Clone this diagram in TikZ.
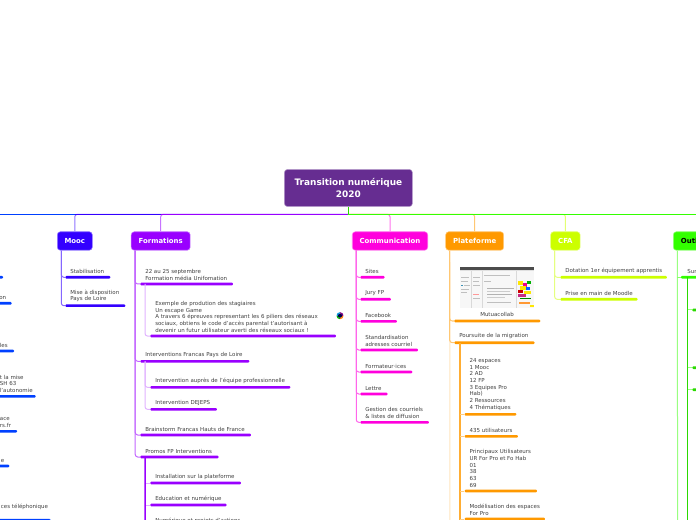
\documentclass[tikz,border=0pt]{standalone}
\usepackage{fontspec}
\setmainfont{DejaVu Sans}
\definecolor{rootc}{HTML}{662D91}
\definecolor{farc}{HTML}{0040FF}
\definecolor{moocc}{HTML}{3300FF}
\definecolor{formc}{HTML}{9900FF}
\definecolor{commc}{HTML}{FF00DD}
\definecolor{platc}{HTML}{FF9900}
\definecolor{cfac}{HTML}{CCFF00}
\definecolor{outc}{HTML}{33FF00}
\def\px{0.75pt}
\tikzset{
  box/.style={rectangle, rounded corners=3*\px, minimum height=18.5*\px, inner sep=0pt, text=white, font=\fontsize{5.2}{7}\bfseries},
  bar/.style={rectangle, rounded corners=1*\px, minimum height=2.6*\px, inner sep=0pt, anchor=west},
  txt/.style={anchor=south west, inner sep=0pt, align=left, xshift=5*\px, yshift=2*\px, text=black!75, font=\fontsize{4.12}{5}\selectfont},
  trunk/.style={line width=1*\px},
  twig/.style={line width=1*\px, rounded corners=2.5*\px},
  stem/.style={line width=1.5*\px}
}
\begin{document}
\begin{tikzpicture}[x=\px,y=-\px]
\useasboundingbox (0,0) rectangle (696,520);
\clip (0,0) rectangle (696,520);

\node [box, fill=rootc, draw=rootc!50, minimum width=128*\px, minimum height=37*\px, align=center, font=\fontsize{6.7}{8.8}\bfseries] (root) at (348.4,188) {Transition numérique\\2020};
\coordinate (hub) at (348.4,214.3);
\coordinate (farl) at (-10,214.3);

\node [box, fill=moocc, draw=moocc!50, minimum width=35*\px] (mooc) at (74.8,241) {Mooc};
\node [box, fill=formc, draw=formc!50, minimum width=59*\px] (form) at (160.7,241) {Formations};
\node [box, fill=commc, draw=commc!50, minimum width=75.5*\px] (comm) at (390,241) {Communication};
\node [box, fill=platc, draw=platc!50, minimum width=58*\px] (plat) at (474.7,241) {Plateforme};
\node [box, fill=cfac, draw=cfac!50, minimum width=29.5*\px] (cfa) at (565.4,241) {CFA};
\node [box, fill=outc, draw=outc!50, minimum width=86*\px, text=black] (outi) at (716.3,241) {\hspace*{-35.7pt}Outils};

\draw [twig, moocc!55] (hub) -| (mooc.north);
\draw [twig, formc!55] (hub) -| (form.north);
\draw [twig, commc!55] (hub) -| (comm.north);
\draw [twig, platc!55] (hub) -| (plat.north);
\draw [twig, cfac!55] (hub) -| (cfa.north);
\draw [trunk, farc] (hub) -- (farl);
\draw [trunk, moocc] (hub) -- (mooc.north |- hub);
\draw [trunk, formc] (hub) -- (form.north |- hub);
\draw [trunk, outc] (hub) -- (outi.north |- hub);
\draw [trunk, outc!85!black] (root.south) -- (hub);

% left, cut by the page
\node [bar, fill=farc, minimum width=40*\px, anchor=east] (l1) at (3.3,277.3) {};
\node [bar, fill=farc, minimum width=40*\px, anchor=east] (l2) at (12,303.3) {};
\node [txt] at (-6,302) {on};
\node [bar, fill=farc, minimum width=40*\px, anchor=east] (l3) at (14.3,351) {};
\node [txt] at (-5.3,349.7) {les};
\node [bar, fill=farc, minimum width=60*\px, anchor=east] (l4) at (36,396.3) {};
\node [txt] at (-5.3,395) {t la mise\\SH 63\\l'autonomie};
\node [bar, fill=farc, minimum width=40*\px, anchor=east] (l5) at (17.3,431.3) {};
\node [txt] at (-5.3,430) {ace\\rs.fr};
\node [bar, fill=farc, minimum width=40*\px, anchor=east] (l6) at (9.7,466) {};
\node [txt] at (-4.5,464.7) {e};
\node [bar, fill=farc, minimum width=80*\px, minimum height=1.2*\px, anchor=east] (l7) at (50.7,519.4) {};
\node [txt] at (-4.3,512) {ces téléphonique};

% Mooc
\node [bar, fill=moocc, minimum width=45*\px] (m1) at (65,277.3) {};
\node [txt] at (m1.north west) {Stabilisation};
\node [bar, fill=moocc, minimum width=60*\px] (m2) at (65,305.7) {};
\node [txt] at (m2.north west) {Mise à disposition\\Pays de Loire};
\draw [twig, moocc!60] ([xshift=4.3*\px]mooc.south west) |- (m1.west);
\draw [twig, moocc!60] ([xshift=4.3*\px]mooc.south west) |- (m2.west);

% Formations
\node [bar, fill=formc, minimum width=92.7*\px] (f1) at (140,284) {};
\node [txt] at (f1.north west) {22 au 25 septembre\\Formation média Unifomation};
\node [bar, fill=formc, minimum width=185.7*\px] (f11) at (150,336) {};
\node [txt] at (f11.north west) {Exemple de prodution des stagiaires\\Un escape Game\\A travers 6 épreuves representant les 6 piliers des réseaux\\sociaux, obtiens le code d'accès parental  t'autorisant à\\devenir un futur utilisateur averti des réseaux sociaux !};
\node [bar, fill=formc, minimum width=109*\px] (f2) at (140,361.3) {};
\node [txt] at (f2.north west) {Interventions Francas Pays de Loire};
\node [bar, fill=formc, minimum width=140*\px] (f21) at (150,387.3) {};
\node [txt] at (f21.north west) {Intervention auprès de l'équipe professionnelle};
\node [bar, fill=formc, minimum width=66.7*\px] (f22) at (150,409.3) {};
\node [txt] at (f22.north west) {Intervention DEJEPS};
\node [bar, fill=formc, minimum width=110.7*\px] (f3) at (140,435) {};
\node [txt] at (f3.north west) {Brainstorm Francas Hauts de France};
\node [bar, fill=formc, minimum width=78.3*\px] (f4) at (140,457) {};
\node [txt] at (f4.north west) {Promos FP Interventions};
\node [bar, fill=formc, minimum width=90.7*\px] (f41) at (150,483) {};
\node [txt] at (f41.north west) {Installation sur la plateforme};
\node [bar, fill=formc, minimum width=76.3*\px] (f42) at (150,505) {};
\node [txt] at (f42.north west) {Education et numérique};
\node [bar, fill=formc, minimum width=92*\px] (f43) at (150,527) {};
\node [txt] at (f43.north west) {Numérique et projets d'actions};
\coordinate (fend) at (145.2,530);
\draw [twig, formc!60] ([xshift=4.3*\px]form.south west) |- (f1.west);
\draw [twig, formc!60] ([xshift=4.3*\px]form.south west) |- (f2.west);
\draw [twig, formc!60] ([xshift=4.3*\px]form.south west) |- (f3.west);
\draw [twig, formc!60] ([xshift=4.3*\px]form.south west) |- (f4.west);
\draw [twig, formc!30] ([xshift=5*\px]f1.west) |- (f11.west);
\draw [twig, formc!30] ([xshift=5*\px]f2.west) |- (f21.west);
\draw [twig, formc!30] ([xshift=5*\px]f2.west) |- (f22.west);
\draw [twig, formc!30] ([xshift=-5*\px]f41.west) -- (f41.west);
\draw [twig, formc!30] ([xshift=-5*\px]f42.west) -- (f42.west);
\draw [stem, formc] ([xshift=5*\px]f4.west) -- (fend);

% small round picture beside the long text
\node [circle, fill=black!70!blue, minimum size=4.5*\px, inner sep=0pt] (icon) at (340,315.7) {};
\draw [line width=1.2*\px, green!70!black] (icon) ++(180:2.9*\px) arc (180:270:2.9*\px);
\draw [line width=1.2*\px, orange] (icon) ++(270:2.9*\px) arc (270:360:2.9*\px);
\draw [line width=1.2*\px, violet] (icon) ++(0:2.9*\px) arc (0:90:2.9*\px);
\draw [line width=1.2*\px, cyan!80!blue] (icon) ++(90:2.9*\px) arc (90:180:2.9*\px);

% Communication
\node [bar, fill=commc, minimum width=24.3*\px] (c1) at (360,277.3) {};
\node [txt] at (c1.north west) {Sites};
\node [bar, fill=commc, minimum width=30.7*\px] (c2) at (360,299.3) {};
\node [txt] at (c2.north west) {Jury FP};
\node [bar, fill=commc, minimum width=36.7*\px] (c3) at (360,321.3) {};
\node [txt] at (c3.north west) {Facebook};
\node [bar, fill=commc, minimum width=57.7*\px] (c4) at (360,350) {};
\node [txt] at (c4.north west) {Standardisation\\adresses courriel};
\node [bar, fill=commc, minimum width=52*\px] (c5) at (360,372) {};
\node [txt] at (c5.north west) {Formateur·ices};
\node [bar, fill=commc, minimum width=27.3*\px] (c6) at (360,394) {};
\node [txt] at (c6.north west) {Lettre};
\node [bar, fill=commc, minimum width=68.7*\px] (c7) at (360,422.3) {};
\node [txt] at (c7.north west) {Gestion des courriels\\\& listes de diffusion};
\draw [twig, commc!60] ([xshift=4.3*\px]comm.south west) |- (c1.west);
\draw [twig, commc!60] ([xshift=4.3*\px]comm.south west) |- (c2.west);
\draw [twig, commc!60] ([xshift=4.3*\px]comm.south west) |- (c3.west);
\draw [twig, commc!60] ([xshift=4.3*\px]comm.south west) |- (c4.west);
\draw [twig, commc!60] ([xshift=4.3*\px]comm.south west) |- (c5.west);
\draw [twig, commc!60] ([xshift=4.3*\px]comm.south west) |- (c6.west);
\draw [twig, commc!60] ([xshift=4.3*\px]comm.south west) |- (c7.west);

% Plateforme
\coordinate (pend) at (450,530);
\draw [twig, platc!25] ([xshift=4.3*\px]plat.south west) -- (pend);
\node [bar, fill=platc, minimum width=86*\px] (p1) at (454,321) {};
\node [txt, xshift=21*\px, yshift=1*\px] at (p1.north west) {Mutuacollab};
\node [bar, fill=platc, minimum width=80.3*\px] (p2) at (454,342.7) {};
\node [txt] at (p2.north west) {Poursuite de la migration};
\draw [twig, platc!55] ([xshift=4.3*\px]plat.south west) |- (p1.west);
\draw [twig, platc!55] ([xshift=4.3*\px]plat.south west) |- (p2.west);
\node [bar, fill=platc, minimum width=51.7*\px] (p21) at (464.3,414.3) {};
\node [txt] at (p21.north west) {24 espaces\\1 Mooc\\2 AD\\12 FP\\3 Equipes Pro\\Hab)\\2 Ressources\\4 Thématiques};
\node [bar, fill=platc, minimum width=53.4*\px] (p22) at (464.3,436.3) {};
\node [txt] at (p22.north west) {435 utilisateurs};
\node [bar, fill=platc, minimum width=72.4*\px] (p23) at (464.3,491) {};
\node [txt] at (p23.north west) {Principaux Utilisateurs\\UR For Pro et Fo Hab\\01\\38\\63\\69};
\node [bar, fill=platc, minimum width=80.4*\px] (p24) at (464.3,519) {};
\node [txt] at (p24.north west) {Modélisation des espaces\\For Pro};
\coordinate (pend2) at (460,530);
\draw [stem, platc!80] ([xshift=6*\px]p2.west) -- (pend2);
\draw [twig, platc!50] (p21.west) -- ([xshift=-4.3*\px]p21.west);
\draw [twig, platc!50] (p22.west) -- ([xshift=-4.3*\px]p22.west);
\draw [twig, platc!50] (p23.west) -- ([xshift=-4.3*\px]p23.west);
\draw [twig, platc!50] (p24.west) -- ([xshift=-4.3*\px]p24.west);

% the screenshot above Mutuacollab
\fill [black!3] (459.7,267) rectangle (534.3,308.3);
\fill [black!70] (459.7,267) rectangle (534.3,270);
\fill [black!12] (459.7,270) rectangle (534.3,271.5);
\draw [black!15, line width=0.4*\px] (471,271.5) -- (471,308);
\draw [black!15, line width=0.4*\px] (482,271.5) -- (482,308);
\draw [black!15, line width=0.4*\px] (516,271.5) -- (516,308);
\fill [black!25] (461,277) rectangle (469,278);
\fill [black!25] (461,281) rectangle (468,282);
\fill [cyan!70!black] (461,285) rectangle (463,286);
\fill [black!25] (464,285) rectangle (470,286);
\fill [black!25] (461,289) rectangle (469,290);
\fill [black!25] (461,292) rectangle (467,293);
\fill [black!25] (473,277) rectangle (480,278);
\fill [black!25] (473,281) rectangle (479,282);
\fill [black!25] (473,285) rectangle (480,286);
\fill [red!40] (473,294) rectangle (479,295);
\fill [black!25] (473,298) rectangle (480,299);
\fill [black!25] (484,275) rectangle (510,276);
\fill [black!25] (484,281) rectangle (491,282);
\fill [black!30] (487,288) rectangle (514,289);
\fill [black!20] (487,291) rectangle (510,292);
\fill [black!30] (487,294) rectangle (512,295);
\fill [black!20] (487,297) rectangle (505,298);
\fill [black!25] (487,302) rectangle (511,303);
\fill [yellow!90!orange] (518,281) rectangle (523,285);
\fill [magenta] (523,283) rectangle (527,287);
\fill [green!70!black] (527,281) rectangle (531,284);
\fill [yellow!90!orange] (520,286) rectangle (526,290);
\fill [blue!60!cyan] (526,287) rectangle (530,290);
\fill [red!80!black] (518,290) rectangle (523,293);
\fill [yellow!90!orange] (524,291) rectangle (531,294);
\fill [magenta!80!black] (518,294) rectangle (526,297);
\fill [green!50!black] (520,298) rectangle (531,299);
\fill [orange!80] (519,302) rectangle (530,304);
\fill [yellow!90!orange] (530,305) rectangle (534,307);
\node [inner sep=0pt, minimum width=74.6*\px, minimum height=41.3*\px] (shot) at (497,287.6) {};

% CFA
\node [bar, fill=cfac, minimum width=106.7*\px] (a1) at (560,277.3) {};
\node [txt] at (a1.north west) {Dotation 1er équipement apprentis};
\node [bar, fill=cfac, minimum width=77.3*\px] (a2) at (560,299.3) {};
\node [txt] at (a2.north west) {Prise en main de Moodle};
\draw [twig, cfac!50] ([xshift=4.3*\px]cfa.south west) |- (a1.west);
\draw [twig, cfac!50] ([xshift=4.3*\px]cfa.south west) |- (a2.west);

% Outils
\coordinate (oend) at (677.6,530);
\draw [twig, outc!50] ([xshift=4.3*\px]outi.south west) -- (oend);
\node [bar, fill=outc, minimum width=40*\px] (o1) at (680.7,277.3) {};
\node [txt, xshift=1.5*\px] at (o1.north west) {Sur};
\draw [twig, outc!60] ([xshift=-3.5*\px]o1.west) -- (o1.west);
\coordinate (oend2) at (687.7,530);
\draw [stem, outc!85!black] ([xshift=7*\px]o1.west) -- (oend2);
\node [bar, fill=outc!85!black, minimum width=12*\px] (o2) at (692,310) {};
\node [bar, fill=outc!85!black, minimum width=12*\px] (o3) at (692,367.7) {};
\node [bar, fill=outc!85!black, minimum width=12*\px] (o4) at (692,389.7) {};
\draw [twig, outc!50] ([xshift=-4.3*\px]o2.west) -- (o2.west);
\draw [twig, outc!50] ([xshift=-4.3*\px]o3.west) -- (o3.west);
\draw [twig, outc!50] ([xshift=-4.3*\px]o4.west) -- (o4.west);
\end{tikzpicture}
\end{document}
